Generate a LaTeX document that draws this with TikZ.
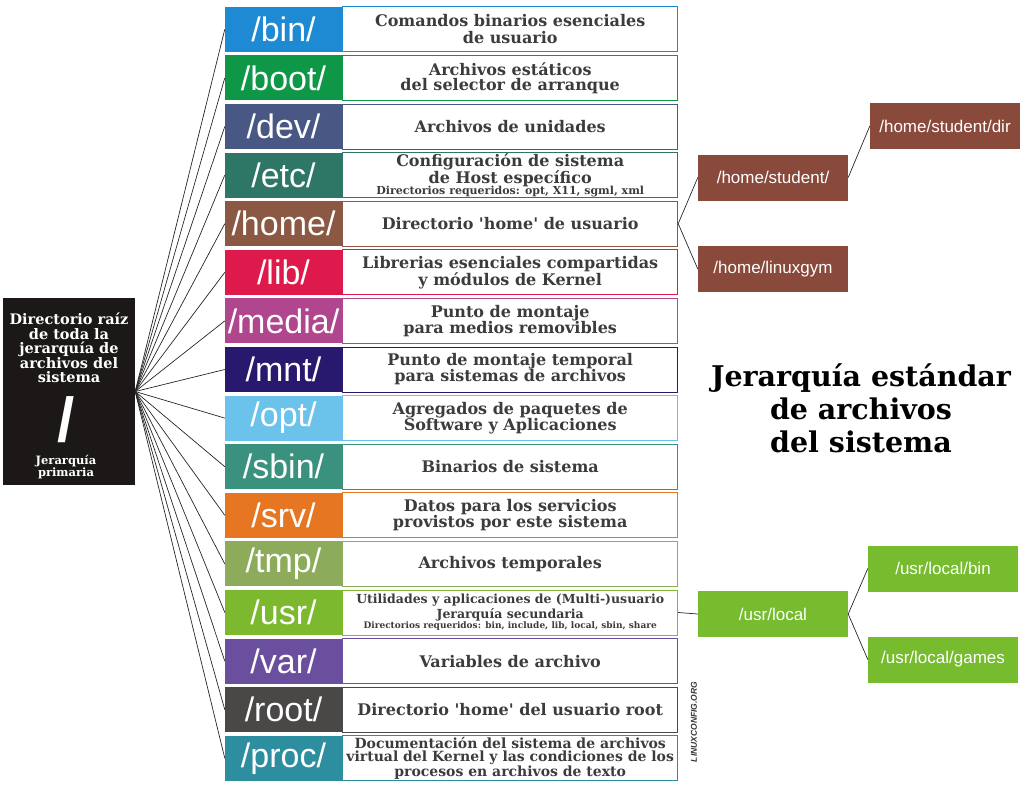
\documentclass[tikz,border=0pt]{standalone}
\usepackage{fontspec}
\setmainfont{DejaVu Serif}
\setsansfont{Liberation Sans}
\usetikzlibrary{positioning}

\definecolor{rootblk}{HTML}{1C1817}
\definecolor{desctxt}{HTML}{3C3C3C}
\definecolor{cbin}{HTML}{1E8AD3}
\definecolor{cboot}{HTML}{0F9748}
\definecolor{cdev}{HTML}{485783}
\definecolor{cetc}{HTML}{2E7666}
\definecolor{chome}{HTML}{8A5843}
\definecolor{clib}{HTML}{DE1A4C}
\definecolor{cmedia}{HTML}{B0468E}
\definecolor{cmnt}{HTML}{28186E}
\definecolor{copt}{HTML}{6BC3EC}
\definecolor{csbin}{HTML}{3A927E}
\definecolor{csrv}{HTML}{E77622}
\definecolor{ctmp}{HTML}{8DAC5B}
\definecolor{cusr}{HTML}{7CB92F}
\definecolor{cvar}{HTML}{6A4F9F}
\definecolor{croot}{HTML}{4A4747}
\definecolor{cproc}{HTML}{2D8E9F}
\definecolor{homesub}{HTML}{8A4A3B}
\definecolor{usrsub}{HTML}{76BC2E}

\begin{document}
\begin{tikzpicture}[x=1pt,y=-1pt,
    dirlbl/.style={minimum width=117pt,minimum height=45pt,inner sep=0pt,text=white,
      font=\sffamily\fontsize{34}{34}\selectfont},
    dirdesc/.style={minimum width=335pt,minimum height=45pt,inner sep=0pt,fill=white,
      line width=1pt,text=desctxt,align=center},
    subdir/.style={minimum width=150pt,minimum height=46pt,inner sep=0pt,text=white,
      font=\sffamily\fontsize{17}{17}\selectfont},
    link/.style={draw=black!85,line width=0.7pt}]
  \useasboundingbox (0,0) rectangle (1029,790);

  % root directory
  \node[fill=rootblk,minimum width=132pt,minimum height=187pt,inner sep=0pt] (root) at (69,391.5) {};
  \node[text=white,align=center,font=\bfseries\fontsize{14.5}{14.5}\selectfont] (roottxt) at (69,348)
    {Directorio raíz\\de toda la\\jerarquía de\\archivos del\\sistema};
  \node[text=white,inner sep=0pt,font=\sffamily\bfseries\fontsize{62}{62}\selectfont] (rootslash) at (66,420) {/};
  \node[text=white,align=center,font=\bfseries\fontsize{11.5}{12}\selectfont] (rootsub) at (66,467)
    {Jerarquía\\primaria};

  % directory rows
  \foreach \n/\s/\b/\t [count=\i from 0] in {
      bin/16/17/{Comandos binarios esenciales\\de usuario},
      boot/16/15/{Archivos estáticos\\del selector de arranque},
      dev/16/16/{Archivos de unidades},
      etc/16/15.5/{Configuración de sistema\\de Host específico\\[-5pt]{\fontsize{11}{11}\selectfont Directorios requeridos: opt, X11, sgml, xml}},
      home/16/16/{Directorio \textquotesingle home\textquotesingle\ de usuario},
      lib/16/16/{Librerias esenciales compartidas\\y módulos de Kernel},
      media/16/16/{Punto de montaje\\para medios removibles},
      mnt/16/16/{Punto de montaje temporal\\para sistemas de archivos},
      opt/16/15.5/{Agregados de paquetes de\\Software y Aplicaciones},
      sbin/16/16/{Binarios de sistema},
      srv/16/16/{Datos para los servicios\\provistos por este sistema},
      tmp/16/16/{Archivos temporales},
      usr/12.5/15/{Utilidades y aplicaciones de (Multi-)usuario\\Jerarquía secundaria\\[-5pt]{\fontsize{9}{9}\selectfont Directorios requeridos: bin, include, lib, local, sbin, share}},
      var/16/16/{Variables de archivo},
      root/16/16/{Directorio \textquotesingle home\textquotesingle\ del usuario root},
      proc/14/13.5/{Documentación del sistema de archivos\\virtual del Kernel y las condiciones de los\\procesos en archivos de texto}}{
    \node[dirlbl,fill=c\n] (l\n) at (283.5,{29.3+48.6*\i}) {/\n/};
    \node[dirdesc,draw=c\n,right=0pt of l\n,font=\bfseries\fontsize{\s}{\b}\selectfont] (d\n) {\t};
    \draw[link] (root.east) -- (l\n.west);
  }

  % /home branch
  \node[subdir,fill=homesub] (hstudent) at (773,177.5) {/home/student/};
  \node[subdir,fill=homesub] (hgym) at (773,269) {/home/linuxgym};
  \node[subdir,fill=homesub] (hdir) at (945,126) {/home/student/dir};
  \draw[link] (dhome.east) -- (hstudent.west);
  \draw[link] (dhome.east) -- (hgym.west);
  \draw[link] (hstudent.east) -- (hdir.west);

  % /usr branch
  \node[subdir,fill=usrsub] (ulocal) at (773,614) {/usr/local};
  \node[subdir,fill=usrsub] (ubin) at (943,568.5) {/usr/local/bin};
  \node[subdir,fill=usrsub] (ugames) at (943,659.5) {/usr/local/games};
  \draw[link] (dusr.east) -- (ulocal.west);
  \draw[link] (ulocal.east) -- (ubin.west);
  \draw[link] (ulocal.east) -- (ugames.west);

  % title
  \node[align=center,font=\bfseries\fontsize{28.5}{33}\selectfont] (title) at (861,408)
    {Jerarquía estándar\\de archivos\\del sistema};
  \node[rotate=90,text=black!80,font=\sffamily\bfseries\itshape\fontsize{8.5}{8.5}\selectfont] (wmark) at (694,722)
    {LINUXCONFIG.ORG};
\end{tikzpicture}
\end{document}
